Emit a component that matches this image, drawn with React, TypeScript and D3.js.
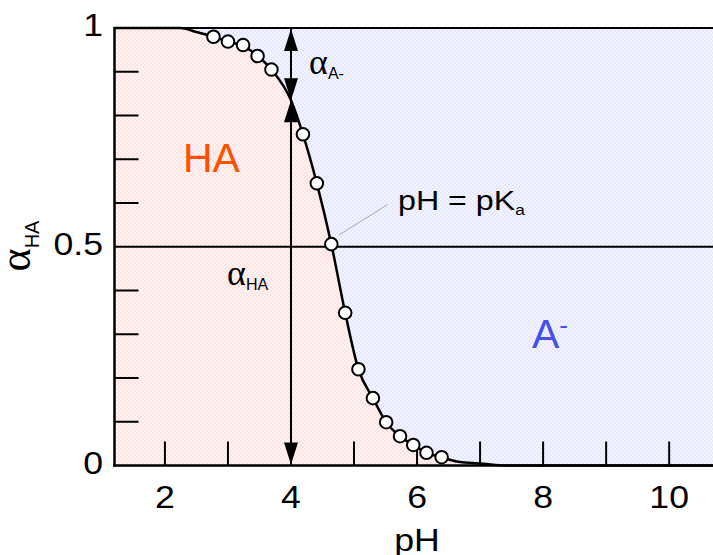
import React from 'react'
import * as d3 from 'd3'

// measured points (open circles)
const pointPH = [2.77, 3.0, 3.24, 3.47, 3.69, 4.19, 4.41, 4.64, 4.86, 5.07, 5.3, 5.51, 5.73, 5.94, 6.15, 6.39]
const pointAlpha = [0.98, 0.969, 0.961, 0.936, 0.905, 0.757, 0.645, 0.506, 0.349, 0.22, 0.154, 0.099, 0.067, 0.047, 0.029, 0.019]

// smooth line through the points
const curvePH = [1.2, 2.24, 2.5, 2.77, 3.0, 3.24, 3.47, 3.69, 4.0, 4.19, 4.41, 4.64, 4.86, 5.07, 5.3, 5.51, 5.73, 5.94, 6.15, 6.39, 6.63, 7.05, 7.41, 10.8]
const curveAlpha = [1.0, 1.0, 0.991, 0.98, 0.969, 0.959, 0.936, 0.905, 0.835, 0.757, 0.645, 0.506, 0.349, 0.22, 0.154, 0.099, 0.067, 0.047, 0.029, 0.019, 0.009, 0.004, 0.0, 0.0]

const xTicks = [2, 3, 4, 5, 6, 7, 8, 9, 10]
const xTickLabels = [2, 4, 6, 8, 10]
const yMinorTicks = [0.1, 0.2, 0.3, 0.4, 0.6, 0.7, 0.8, 0.9]
const yTickLabels = ['0', '0.5', '1']
const yTickValues = [0, 0.5, 1]
const arrowPH = 4
const pKa = 4.64

const W = 713
const H = 555
const SANS = '"Liberation Sans", Arial, Helvetica, sans-serif'
const SERIF = '"Liberation Serif", "DejaVu Serif", serif'
const STRETCH = 1.15

const App = () => {
  const x = d3.scaleLinear().domain([1.2, 10.8]).range([114.5, 719.6])
  const y = d3.scaleLinear().domain([0, 1]).range([465.5, 28])

  const pts = curvePH.map((p, i) => [p, curveAlpha[i]] as [number, number])

  const line = d3.line<[number, number]>()
    .x(d => x(d[0]))
    .y(d => y(d[1]))
    .curve(d3.curveMonotoneX)

  const areaBelow = d3.area<[number, number]>()
    .x(d => x(d[0]))
    .y0(y(0))
    .y1(d => y(d[1]))
    .curve(d3.curveMonotoneX)

  const areaAbove = d3.area<[number, number]>()
    .x(d => x(d[0]))
    .y0(y(1))
    .y1(d => y(d[1]))
    .curve(d3.curveMonotoneX)

  const ax = x(arrowPH)
  const junction = y(curveAlpha[curvePH.indexOf(arrowPH)])
  const top = y(1)
  const bottom = y(0)
  const hw = 7
  const hl = 22

  const kx = x(pKa)
  const ky = y(0.5)

  return (
    <svg width={W} height={H} style={{ position: 'absolute', left: 0, top: 0, background: '#fff' }}>
      <defs>
        <pattern id="pink" width={4} height={4} patternUnits="userSpaceOnUse">
          <rect width={4} height={4} fill="#fff4f4" />
          <rect width={2} height={2} fill="#ffe3e3" />
          <rect x={2} y={2} width={2} height={2} fill="#ffe3e3" />
        </pattern>
        <pattern id="blue" width={4} height={4} patternUnits="userSpaceOnUse">
          <rect width={4} height={4} fill="#f4f5ff" />
          <rect width={2} height={2} fill="#e4e7ff" />
          <rect x={2} y={2} width={2} height={2} fill="#e4e7ff" />
        </pattern>
      </defs>

      {/* regions */}
      <path d={areaBelow(pts) ?? ''} fill="url(#pink)" />
      <path d={areaAbove(pts) ?? ''} fill="url(#blue)" />

      {/* pH = pKa line */}
      <line x1={x(1.2)} x2={W} y1={y(0.5)} y2={y(0.5)} stroke="#000" strokeWidth={2} />
      {/* top border */}
      <line x1={x(1.2)} x2={W} y1={top} y2={top} stroke="#000" strokeWidth={2} />

      {/* ticks */}
      {yMinorTicks.map(t => (
        <line key={'yt' + t} x1={x(1.2)} x2={x(1.2) + 24} y1={y(t)} y2={y(t)} stroke="#000" strokeWidth={2} />
      ))}
      {xTicks.map(t => (
        <line key={'xt' + t} x1={x(t)} x2={x(t)} y1={bottom} y2={bottom - 24} stroke="#000" strokeWidth={2} />
      ))}

      {/* arrows at pH 4 */}
      <line x1={ax} x2={ax} y1={top} y2={bottom} stroke="#000" strokeWidth={2} />
      <polygon points={`${ax},${top + 1} ${ax - hw},${top + 1 + hl} ${ax + hw},${top + 1 + hl}`} fill="#000" />
      <polygon points={`${ax},${junction} ${ax - hw},${junction - hl} ${ax + hw},${junction - hl}`} fill="#000" />
      <polygon points={`${ax},${junction} ${ax - hw},${junction + hl} ${ax + hw},${junction + hl}`} fill="#000" />
      <polygon points={`${ax},${bottom - 1} ${ax - hw},${bottom - 1 - hl} ${ax + hw},${bottom - 1 - hl}`} fill="#000" />

      {/* curve */}
      <path d={line(pts) ?? ''} fill="none" stroke="#000" strokeWidth={2.5} />
      {pointPH.map((p, i) => (
        <circle key={'p' + i} cx={x(p)} cy={y(pointAlpha[i])} r={6.3} fill="#fff" stroke="#000" strokeWidth={2} />
      ))}

      {/* axes */}
      <line x1={x(1.2)} x2={x(1.2)} y1={top - 1} y2={bottom + 1.25} stroke="#000" strokeWidth={2.5} />
      <line x1={x(1.2) - 1.25} x2={W} y1={bottom} y2={bottom} stroke="#000" strokeWidth={2.5} />

      {/* tick labels */}
      {xTickLabels.map(t => (
        <text key={'xl' + t} transform={`translate(${x(t)},508) scale(${STRETCH},1)`} textAnchor="middle"
          fontFamily={SANS} fontSize={31} fill="#000">{t}</text>
      ))}
      {yTickLabels.map((t, i) => (
        <text key={'yl' + t} transform={`translate(103,${y(yTickValues[i]) + 8}) scale(${STRETCH},1)`} textAnchor="end"
          fontFamily={SANS} fontSize={31} fill="#000">{t}</text>
      ))}

      {/* axis titles */}
      <text transform={`translate(${x(6)},551) scale(${STRETCH},1)`} textAnchor="middle" fontFamily={SANS} fontSize={31} fill="#000">pH</text>
      <text transform="translate(30,246) rotate(-90)" textAnchor="middle" fill="#000">
        <tspan fontFamily={SERIF} fontSize={44}>α</tspan>
        <tspan fontFamily={SANS} fontSize={20} dy={9}>HA</tspan>
      </text>

      {/* region labels */}
      <text x={183} y={172} fontFamily={SANS} fontSize={41} fill="#ff5000">HA</text>
      <text x={532} y={347.5} fontFamily={SANS} fontSize={41} fill="#4650ee">
        A<tspan fontSize={26} dy={-14}>-</tspan>
      </text>

      {/* arrow labels */}
      <text x={309} y={74} fill="#000">
        <tspan fontFamily={SERIF} fontSize={36}>α</tspan>
        <tspan fontFamily={SANS} fontSize={16} dy={5}>A-</tspan>
      </text>
      <text x={227} y={285} fill="#000">
        <tspan fontFamily={SERIF} fontSize={36}>α</tspan>
        <tspan fontFamily={SANS} fontSize={16} dy={5}>HA</tspan>
      </text>

      {/* pKa annotation */}
      <line x1={kx + 8} y1={ky - 12} x2={kx + 56} y2={ky - 42} stroke="#aaa" strokeWidth={1} />
      <text transform={`translate(398,210) scale(${STRETCH},1)`} fontFamily={SANS} fontSize={28} fill="#000">
        pH = pK<tspan fontSize={15} dy={5}>a</tspan>
      </text>
    </svg>
  )
}

export default App
